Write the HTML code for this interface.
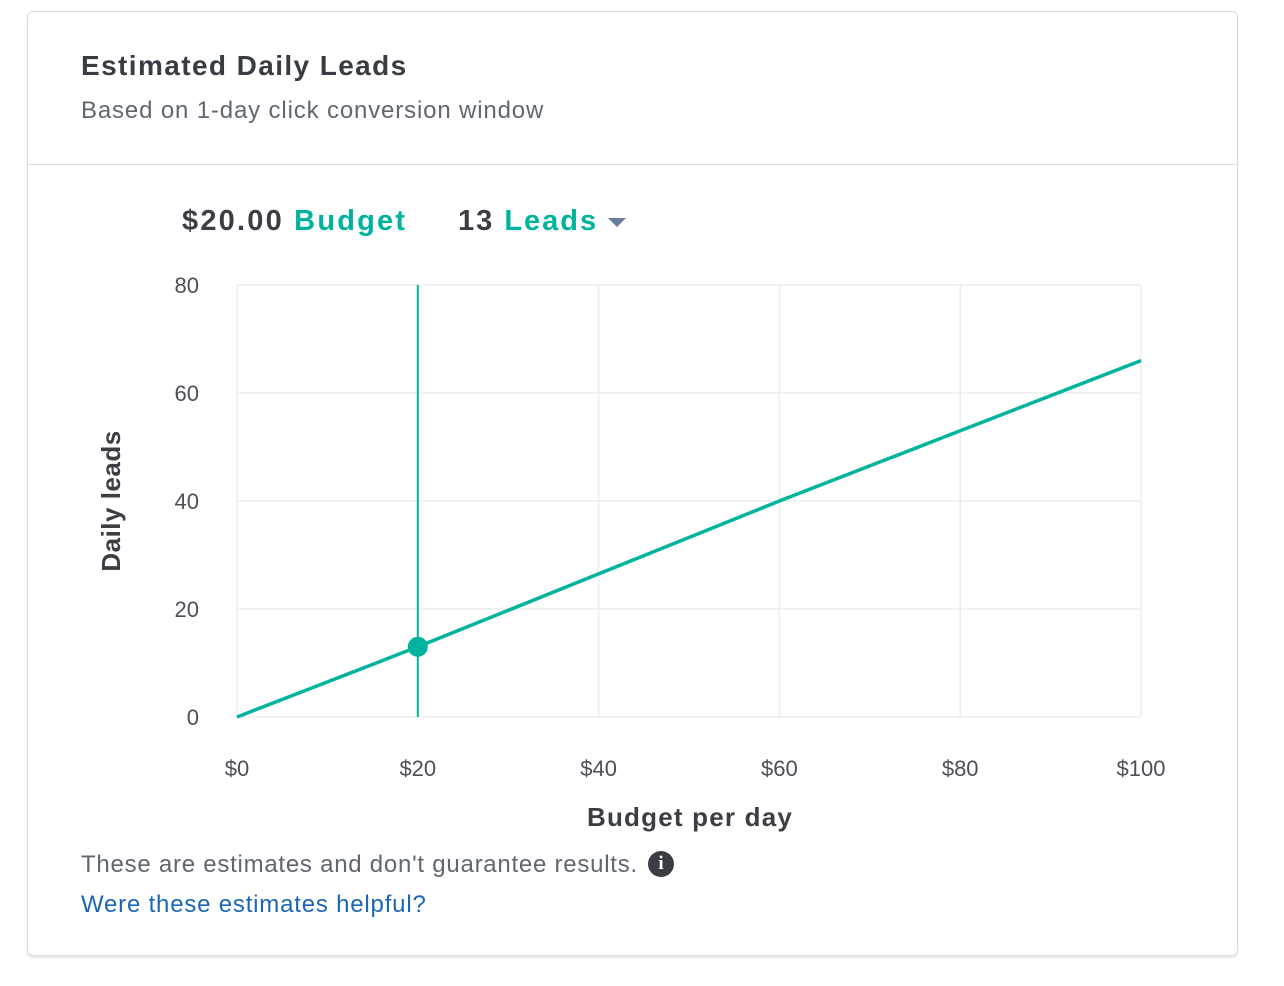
<!DOCTYPE html>
<html><head><meta charset="utf-8"><style>
body{margin:0;width:1284px;height:986px;background:#fff;font-family:"Liberation Sans",sans-serif;position:relative;overflow:hidden}
.card{position:absolute;left:27px;top:11px;width:1209px;height:943px;border:1px solid #dcdde0;border-radius:6px;box-shadow:0 2px 2px #e3e4e6;background:#fff}
.divider{position:absolute;left:0;right:0;top:152px;border-top:1px solid #dcdde0}
.t{position:absolute;white-space:nowrap}
</style></head><body>
<div class="card">
<div class="divider"></div>
</div>
<div class="t" style="left:81px;top:50px;font-size:28px;font-weight:bold;color:#383d44;letter-spacing:1.4px">Estimated Daily Leads</div>
<div class="t" style="left:81px;top:97px;font-size:24px;color:#606770;letter-spacing:0.85px">Based on 1-day click conversion window</div>
<div class="t" style="left:182px;top:205px;font-size:29px;font-weight:bold;color:#3b3f45;letter-spacing:2.2px">$20.00 <span style="color:#00b39d">Budget</span></div>
<div class="t" style="left:458px;top:205px;font-size:29px;font-weight:bold;color:#3b3f45;letter-spacing:2px">13 <span style="color:#00b39d">Leads</span> <span style="display:inline-block;width:0;height:0;border-left:9px solid transparent;border-right:9px solid transparent;border-top:9px solid #6b7ba0;vertical-align:middle;margin-left:0px"></span></div>
<svg id="chart" width="1284" height="986" style="position:absolute;left:0;top:0"></svg>
<div class="t" style="left:81px;top:851px;font-size:24px;color:#606770;letter-spacing:0.75px">These are estimates and don't guarantee results.</div>
<div class="t" style="left:648px;top:851px;width:26px;height:26px;border-radius:50%;background:#3a3d42;color:#fff;font-weight:bold;font-size:19px;text-align:center;line-height:26px;font-family:'Liberation Serif',serif">i</div>
<div class="t" style="left:81px;top:891px;font-size:24px;color:#1b66b5;letter-spacing:0.8px">Were these estimates helpful?</div>
<script>
const xTicks=[0,20,40,60,80,100];
const yTicks=[0,20,40,60,80];
const budgets=[0,20,40,60,80,100];
const leads=[0,13,26.5,40,53,66];
const selBudget=20, selLeads=13;
const X0=237,X1=1141,Y0=717,Y1=285;
const sx=v=>X0+(v-0)/(100-0)*(X1-X0);
const sy=v=>Y0-(v-0)/(80-0)*(Y0-Y1);
const svg=document.getElementById('chart');
const NS='http://www.w3.org/2000/svg';
function mk(tag,attrs){const e=document.createElementNS(NS,tag);for(const k in attrs)e.setAttribute(k,attrs[k]);svg.appendChild(e);return e;}
yTicks.forEach(v=>{
 const g=mk('line',{x1:X0,x2:X1,y1:sy(v),y2:sy(v),stroke:'#ebedf0','stroke-width':1.5});
 
 
 const t=mk('text',{x:199,y:sy(v)+8,'text-anchor':'end','font-size':22,fill:'#4b4f56','font-family':'Liberation Sans, sans-serif'});t.textContent=v;
 
 
});
xTicks.forEach(v=>{
 const g=mk('line',{x1:sx(v),x2:sx(v),y1:Y1,y2:Y0,stroke:'#ebedf0','stroke-width':1.5});
 
 
 const t=mk('text',{x:sx(v),y:776,'text-anchor':'middle','font-size':22,fill:'#4b4f56','font-family':'Liberation Sans, sans-serif'});t.textContent='$'+v;
 
 
});
const vl=mk('line',{x1:sx(selBudget),x2:sx(selBudget),y1:Y1,y2:Y0,stroke:'#00b39d','stroke-width':2});


const pts=budgets.map((b,i)=>sx(b)+','+sy(leads[i])).join(' ');
const pl=mk('polyline',{points:pts,fill:'none',stroke:'#00b39d','stroke-width':3.5});


const c=mk('circle',{cx:sx(selBudget),cy:sy(selLeads),r:10,fill:'#00b39d'});


const yt=mk('text',{x:0,y:0,transform:'translate(120,501) rotate(-90)','text-anchor':'middle','font-size':26,'font-weight':'bold',fill:'#3b3f45','font-family':'Liberation Sans, sans-serif','letter-spacing':0.5});yt.textContent='Daily leads';


const xt=mk('text',{x:690,y:826,'text-anchor':'middle','font-size':26,'font-weight':'bold',fill:'#3b3f45','font-family':'Liberation Sans, sans-serif','letter-spacing':1.2});xt.textContent='Budget per day';


</script>
</body></html>
